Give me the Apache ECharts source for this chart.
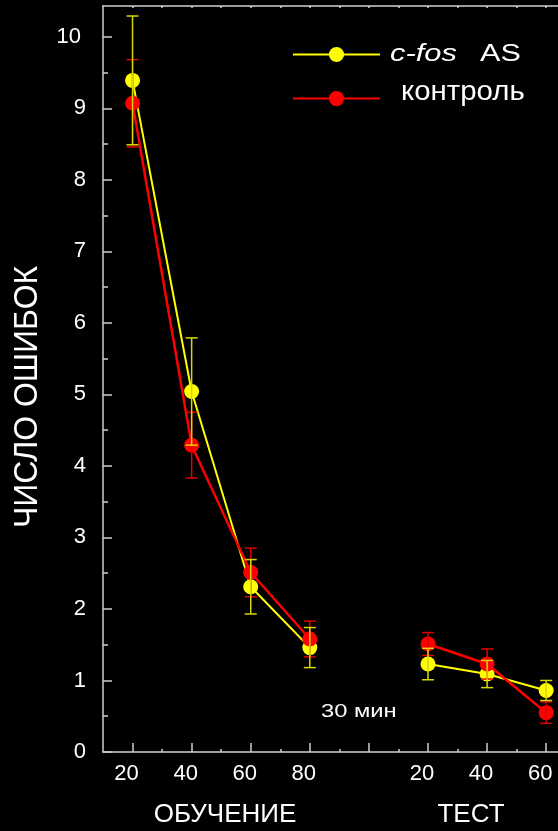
<!DOCTYPE html>
<html>
<head>
<meta charset="utf-8">
<script src="https://cdn.jsdelivr.net/npm/echarts@6/dist/echarts.min.js"></script>
<style>
html,body{margin:0;padding:0;background:#000;}
#chart{width:558px;height:831px;}
</style>
</head>
<body>
<div id="chart"></div>
<script>
// positions on the x scale (training 20..80, then test 20..60 after a gap at 100)
const xPositions = [20, 40, 60, 80, 120, 140, 160];
const tickPositions = [20, 40, 60, 80, 100, 120, 140, 160];
const tickLabels = ['20', '40', '60', '80', '', '20', '40', '60'];
const minorTickPositions = [30, 50, 70, 90, 110, 130, 150];
const topTickPositions = [20, 30, 40, 50, 60, 70, 80, 90, 100, 110, 120, 130, 140, 150, 160];
const yTicks = [0, 1, 2, 3, 4, 5, 6, 7, 8, 9, 10];
const yMinorTicks = [0.5, 1.5, 2.5, 3.5, 4.5, 5.5, 6.5, 7.5, 8.5, 9.5];
const gapAfterIndex = 3;      // line broken between training and test
const gapPosition = 100;

const seriesNames = ['c-fos AS', 'контроль'];
const cfosMean = [9.39, 5.04, 2.31, 1.46, 1.23, 1.09, 0.86];
const cfosErr  = [0.90, 0.75, 0.38, 0.28, 0.22, 0.19, 0.14];
const ctrlMean = [9.07, 4.29, 2.51, 1.58, 1.51, 1.23, 0.55];
const ctrlErr  = [0.61, 0.46, 0.34, 0.25, 0.16, 0.21, 0.15];

const FONT = 'Arial, "Liberation Sans", Helvetica, sans-serif';
const AXIS_COLOR = '#cfcfcf';

function lineData(means) {
  const out = [];
  means.forEach((m, i) => {
    out.push([xPositions[i], m]);
    if (i === gapAfterIndex) out.push([gapPosition, '-']);
  });
  return out;
}
function errData(means, errs) {
  return means.map((m, i) => [xPositions[i], m, errs[i]]);
}
function errRender(color) {
  return function (params, api) {
    const x = api.value(0), y = api.value(1), e = api.value(2);
    const top = api.coord([x, y + e]);
    const bot = api.coord([x, y - e]);
    const h = 6;
    const st = { stroke: color, lineWidth: 1.5 };
    return {
      type: 'group',
      children: [
        { type: 'line', shape: { x1: top[0], y1: top[1], x2: bot[0], y2: bot[1] }, style: st },
        { type: 'line', shape: { x1: top[0] - h, y1: top[1], x2: top[0] + h, y2: top[1] }, style: st },
        { type: 'line', shape: { x1: bot[0] - h, y1: bot[1], x2: bot[0] + h, y2: bot[1] }, style: st }
      ]
    };
  };
}

const chart = echarts.init(document.getElementById('chart'), null, { renderer: 'canvas' });
const axisLineStyle = { color: AXIS_COLOR, width: 1.5 };

chart.setOption({
  backgroundColor: '#000',
  animation: false,
  textStyle: { fontFamily: FONT },
  grid: { left: 103, right: 0, top: 6, bottom: 79, containLabel: false },
  legend: {
    data: seriesNames,
    orient: 'vertical',
    left: 287,
    top: 40,
    itemWidth: 87,
    itemHeight: 19,
    itemGap: 27,
    lineStyle: { width: 2 },
    formatter: function () { return ''; },
    textStyle: { color: '#fff', fontSize: 1 }
  },
  xAxis: [
    {
      type: 'value', min: 10, max: 164, position: 'bottom',
      axisLine: { show: true, lineStyle: axisLineStyle },
      axisTick: { show: true, inside: true, length: 9, customValues: tickPositions, lineStyle: axisLineStyle },
      axisLabel: {
        show: true, customValues: tickPositions.filter((v, i) => tickLabels[i] !== ''),
        formatter: v => tickLabels[tickPositions.indexOf(v)],
        color: '#fff', fontSize: 22, fontFamily: FONT, margin: 11, padding: [0, 12, 0, 0]
      },
      splitLine: { show: false }
    },
    {
      type: 'value', min: 10, max: 164, position: 'bottom',
      axisLine: { show: false },
      axisTick: { show: true, inside: true, length: 3, customValues: minorTickPositions, lineStyle: axisLineStyle },
      axisLabel: { show: false },
      splitLine: { show: false }
    },
    {
      type: 'value', min: 10, max: 164, position: 'top',
      axisLine: { show: true, lineStyle: axisLineStyle },
      axisTick: { show: true, inside: true, length: 2, customValues: topTickPositions, lineStyle: axisLineStyle },
      axisLabel: { show: false },
      splitLine: { show: false }
    }
  ],
  yAxis: [
    {
      type: 'value', min: 0, max: 10.43, position: 'left',
      axisLine: { show: true, lineStyle: axisLineStyle },
      axisTick: { show: true, inside: true, length: 9, customValues: yTicks, lineStyle: axisLineStyle },
      axisLabel: {
        show: true, customValues: yTicks, color: '#fff', fontSize: 22, fontFamily: FONT, margin: 17,
        formatter: v => (v >= 10 ? '{t|' + v + '}' : String(v)),
        rich: { t: { color: '#fff', fontSize: 22, fontFamily: FONT, padding: [0, 5, 0, 0] } }
      },
      splitLine: { show: false }
    },
    {
      type: 'value', min: 0, max: 10.43, position: 'left',
      axisLine: { show: false },
      axisTick: { show: true, inside: true, length: 5, customValues: yMinorTicks, lineStyle: axisLineStyle },
      axisLabel: { show: false },
      splitLine: { show: false }
    }
  ],
  series: [
    {
      name: seriesNames[0], type: 'line', xAxisIndex: 0, yAxisIndex: 0,
      data: lineData(cfosMean), connectNulls: false,
      symbol: 'circle', symbolSize: 15,
      lineStyle: { color: '#ffff00', width: 2 },
      itemStyle: { color: '#ffff00' },
      z: 2
    },
    {
      name: seriesNames[1], type: 'line', xAxisIndex: 0, yAxisIndex: 0,
      data: lineData(ctrlMean), connectNulls: false,
      symbol: 'circle', symbolSize: 15,
      lineStyle: { color: '#ff0000', width: 2.5 },
      itemStyle: { color: '#ff0000' },
      z: 3
    },
    {
      type: 'custom', xAxisIndex: 0, yAxisIndex: 0,
      renderItem: errRender('#e00000'),
      encode: { x: 0, y: [1, 2] },
      data: errData(ctrlMean, ctrlErr),
      z: 4
    },
    {
      type: 'custom', xAxisIndex: 0, yAxisIndex: 0,
      renderItem: errRender('#d8d800'),
      encode: { x: 0, y: [1, 2] },
      data: errData(cfosMean, cfosErr),
      z: 5
    }
  ],
  graphic: [
    {
      type: 'text', x: 390, y: 55, scaleX: 1.34,
      style: { text: 'c-fos', fill: '#fff', font: 'italic 23px ' + FONT, textAlign: 'left', textVerticalAlign: 'middle' }
    },
    {
      type: 'text', x: 480, y: 55, scaleX: 1.33,
      style: { text: 'AS', fill: '#fff', font: '23px ' + FONT, textAlign: 'left', textVerticalAlign: 'middle' }
    },
    {
      type: 'text', x: 401, y: 92, scaleX: 1.05,
      style: { text: 'контроль', fill: '#fff', font: '28px ' + FONT, textAlign: 'left', textVerticalAlign: 'middle' }
    },
    {
      type: 'text', x: 28, y: 397, rotation: Math.PI / 2, scaleX: 0.94,
      style: { text: 'ЧИСЛО ОШИБОК', fill: '#fff', font: '34px ' + FONT, textAlign: 'center', textVerticalAlign: 'middle' }
    },
    {
      type: 'text', x: 321, y: 712, scaleX: 1.25,
      style: { text: '30 мин', fill: '#fff', font: '19px ' + FONT, textAlign: 'left', textVerticalAlign: 'middle' }
    },
    {
      type: 'text', x: 225, y: 815,
      style: { text: 'ОБУЧЕНИЕ', fill: '#fff', font: '26px ' + FONT, textAlign: 'center', textVerticalAlign: 'middle' }
    },
    {
      type: 'text', x: 471, y: 815,
      style: { text: 'ТЕСТ', fill: '#fff', font: '26px ' + FONT, textAlign: 'center', textVerticalAlign: 'middle' }
    },
    {
      type: 'text', x: -4, y: 690,
      style: { text: ')', fill: '#bbb', font: '11px ' + FONT, textAlign: 'left', textVerticalAlign: 'middle' }
    }
  ]
});
</script>
</body>
</html>
